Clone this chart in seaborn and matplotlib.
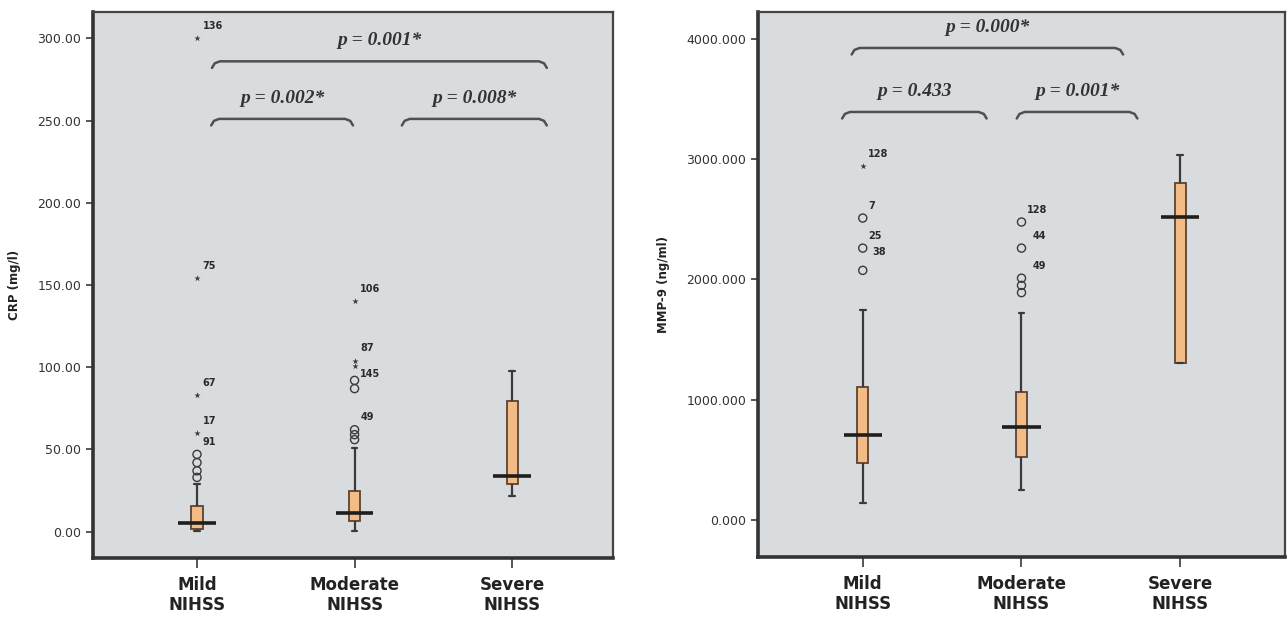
#!/usr/bin/env python3
"""CRP and MMP-9 box plots across NIHSS severity groups, with pairwise p-value brackets."""

import matplotlib

matplotlib.use("Agg")
import matplotlib.pyplot as plt
import numpy as np
import pandas as pd
import seaborn as sns


GROUPS = ["Mild\nNIHSS", "Moderate\nNIHSS", "Severe\nNIHSS"]

# box summaries (lower whisker, Q1, median, Q3, upper whisker)
CRP_LOW = [0.6, 0.6, 21.9]
CRP_Q1 = [1.8, 6.7, 29.0]
CRP_MEDIAN = [5.5, 11.5, 34.0]
CRP_Q3 = [15.8, 24.9, 79.6]
CRP_HIGH = [29.0, 51.0, 97.8]

MMP_LOW = [141, 250, 1305]
MMP_Q1 = [474, 524, 1305]
MMP_MEDIAN = [707, 773, 2520]
MMP_Q3 = [1105, 1064, 2800]
MMP_HIGH = [1745, 1720, 3034]

# outliers: group index, value, kind (o = outlier, * = extreme), case number
CRP_OUT_GROUP = [0, 0, 0, 0, 0, 0, 0, 0, 1, 1, 1, 1, 1, 1, 1, 1]
CRP_OUT_VALUE = [300, 154, 83, 60, 47, 42, 37, 33, 140, 104, 101, 92, 87, 62, 59, 56]
CRP_OUT_KIND = ["*", "*", "*", "*", "o", "o", "o", "o", "*", "*", "*", "o", "o", "o", "o", "o"]
CRP_OUT_CASE = ["136", "75", "67", "17", "91", "", "", "", "106", "87", "145", "", "", "49", "", ""]

MMP_OUT_GROUP = [0, 0, 0, 0, 1, 1, 1, 1, 1]
MMP_OUT_VALUE = [2940, 2510, 2260, 2075, 2477, 2260, 2010, 1950, 1890]
MMP_OUT_KIND = ["*", "o", "o", "o", "o", "o", "o", "o", "o"]
MMP_OUT_CASE = ["128", "7", "25", "38", "128", "44", "49", "", ""]

# pairwise comparisons: start, end, bracket height, text
CRP_TESTS = [
    (0.095, 2.22, 286.0, "p = 0.001*"),
    (0.09, 0.99, 251.0, "p = 0.002*"),
    (1.30, 2.22, 251.0, "p = 0.008*"),
]
MMP_TESTS = [
    (-0.07, 1.64, 3924, "p = 0.000*"),
    (-0.13, 0.78, 3392, "p = 0.433"),
    (0.97, 1.73, 3392, "p = 0.001*"),
]

PANEL_BG = "#D9DCDF"
BOX_FILL = "#F3BC86"
BOX_EDGE = "#5E4330"
LINE = "#3A3A3A"
DEFAULT_NUDGE = (4, 9)
LABEL_NUDGE = {
    ("CRP", "145"): (4, -6),
    ("MMP", "128"): (4, 9),
    ("MMP", "38"): (7, 13),
    ("MMP", "44"): (8, 9),
    ("MMP", "49"): (8, 9),
}


def box_frame(low, q1, median, q3, high) -> pd.DataFrame:
    rows = []
    for i, group in enumerate(GROUPS):
        for v in (low[i], q1[i], median[i], q3[i], high[i]):
            rows.append({"group": group, "value": v})
    return pd.DataFrame(rows)


def draw_bracket(ax, x0, x1, y, text, hook):
    dx = 0.05
    xs = [x0, x0 + dx * 0.35, x0 + dx, x1 - dx, x1 - dx * 0.35, x1]
    ys = [y - hook, y - hook * 0.3, y, y, y - hook * 0.3, y - hook]
    ax.plot(xs, ys, color="#505050", linewidth=1.8, solid_capstyle="round", zorder=3)
    ax.annotate(
        text,
        ((x0 + x1) / 2, y),
        xytext=(0, 15),
        textcoords="offset points",
        ha="center",
        va="center",
        fontsize=14,
        fontstyle="italic",
        fontweight="bold",
        family=["Liberation Serif", "DejaVu Serif"],
        color="#333333",
    )


def draw_panel(ax, key, summary, outliers, tests, ylabel, ylim, yticks, fmt):
    box_df = box_frame(*summary)
    sns.boxplot(
        data=box_df,
        x="group",
        y="value",
        order=GROUPS,
        whis=(0, 100),
        width=0.07,
        showfliers=False,
        color=BOX_FILL,
        saturation=1,
        linecolor=BOX_EDGE,
        linewidth=1.3,
        whiskerprops={"color": LINE, "linewidth": 1.6},
        capprops={"color": LINE, "linewidth": 1.6},
        ax=ax,
    )
    pos = np.arange(len(GROUPS))
    ax.hlines(summary[2], pos - 0.12, pos + 0.12, colors="#1E1E1E", linewidth=2.6, zorder=5)

    group, value, kind, case = outliers
    out_df = pd.DataFrame({"x": group, "value": value, "kind": kind, "case": case})
    circles = out_df[out_df["kind"] == "o"]
    stars = out_df[out_df["kind"] == "*"]
    sns.scatterplot(data=circles, x="x", y="value", marker="o", s=34, facecolors="none",
                    edgecolor=LINE, linewidth=1.0, ax=ax, zorder=4)
    sns.scatterplot(data=stars, x="x", y="value", marker="*", s=22, color=LINE,
                    linewidth=0, ax=ax, zorder=4)
    for _, row in out_df.iterrows():
        if not row["case"]:
            continue
        ax.annotate(
            row["case"],
            (row["x"], row["value"]),
            xytext=LABEL_NUDGE.get((key, row["case"]), DEFAULT_NUDGE),
            textcoords="offset points",
            ha="left",
            va="center",
            fontsize=7,
            fontweight="bold",
            color="#2A2A2A",
        )

    span = ylim[1] - ylim[0]
    for x0, x1, y, text in tests:
        draw_bracket(ax, x0, x1, y, text, hook=0.012 * span)

    ax.set_facecolor(PANEL_BG)
    ax.set_xlim(-0.66, 2.64)
    ax.set_ylim(*ylim)
    ax.set_yticks(yticks)
    ax.set_yticklabels([fmt.format(t) for t in yticks])
    ax.set_xticks(pos)
    ax.set_xticklabels(GROUPS, fontsize=12, fontweight="bold", color="#222222", linespacing=1.15)
    ax.set_xlabel("")
    ax.set_ylabel(ylabel, fontsize=8.5, fontweight="bold", color="#222222", labelpad=12)
    ax.tick_params(axis="y", length=5, width=1.2, labelsize=9, labelcolor="#333333", color=LINE)
    ax.tick_params(axis="x", length=7, width=1.2, pad=6, color=LINE)
    for side in ("left", "bottom"):
        ax.spines[side].set_linewidth(2.6)
        ax.spines[side].set_color("#333333")
    for side in ("top", "right"):
        ax.spines[side].set_visible(True)
        ax.spines[side].set_linewidth(1.6)
        ax.spines[side].set_color("#444444")
    ax.grid(False)


def main() -> None:
    sns.set_theme(style="ticks")
    plt.rcParams["font.family"] = ["DejaVu Sans"]

    fig = plt.figure(figsize=(12.87, 6.19), dpi=100)
    ax_crp = fig.add_axes([93 / 1287, 1 - 558 / 619, 520 / 1287, 546 / 619])
    ax_mmp = fig.add_axes([758 / 1287, 1 - 557 / 619, 527 / 1287, 545 / 619])

    draw_panel(
        ax_crp,
        "CRP",
        (CRP_LOW, CRP_Q1, CRP_MEDIAN, CRP_Q3, CRP_HIGH),
        (CRP_OUT_GROUP, CRP_OUT_VALUE, CRP_OUT_KIND, CRP_OUT_CASE),
        CRP_TESTS,
        "CRP (mg/l)",
        (-16, 316),
        [0, 50, 100, 150, 200, 250, 300],
        "{:.2f}",
    )
    draw_panel(
        ax_mmp,
        "MMP",
        (MMP_LOW, MMP_Q1, MMP_MEDIAN, MMP_Q3, MMP_HIGH),
        (MMP_OUT_GROUP, MMP_OUT_VALUE, MMP_OUT_KIND, MMP_OUT_CASE),
        MMP_TESTS,
        "MMP-9 (ng/ml)",
        (-308, 4223),
        [0, 1000, 2000, 3000, 4000],
        "{:.3f}",
    )
    ax_mmp.set_xlim(-0.66, 2.66)

    fig.savefig("out.png", dpi=100)
    plt.close(fig)


if __name__ == "__main__":
    main()
